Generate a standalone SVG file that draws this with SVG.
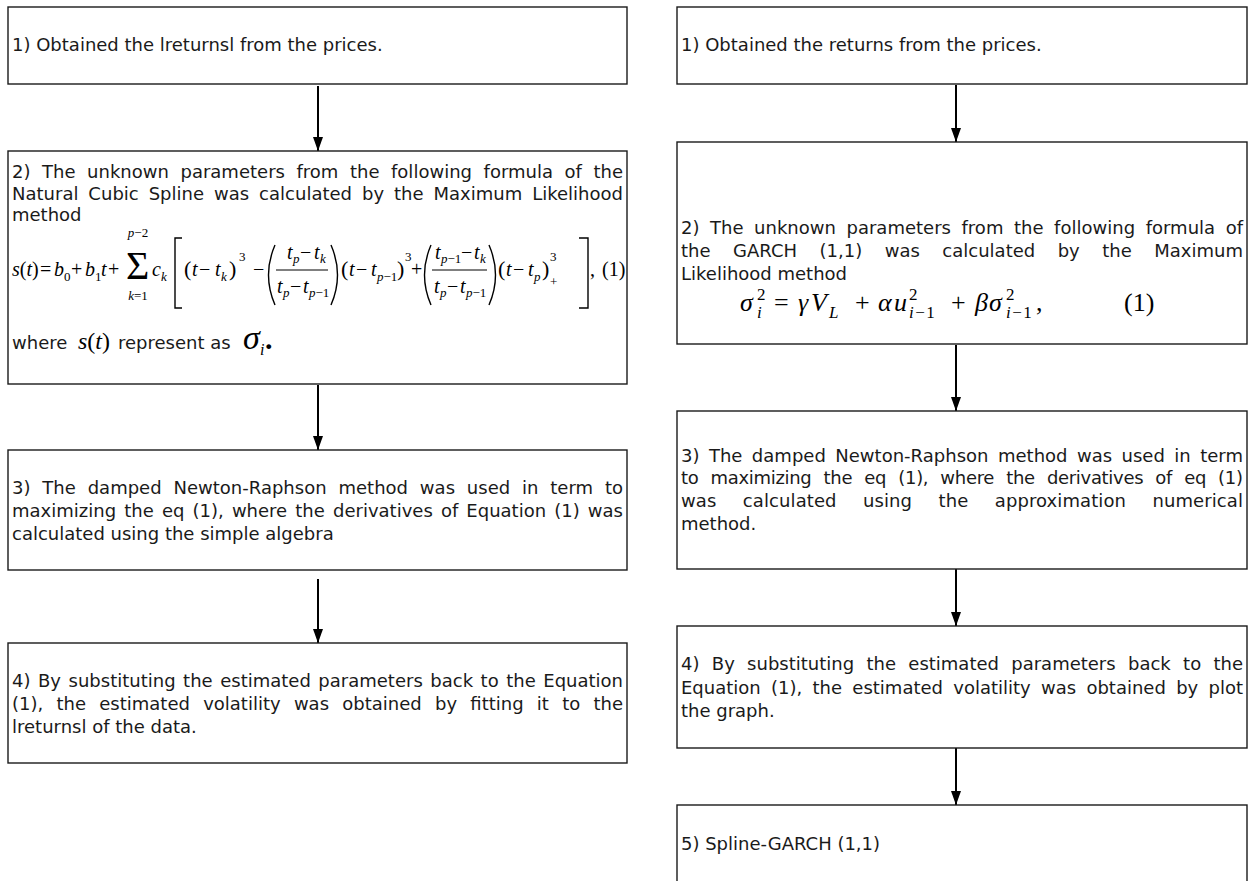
<svg xmlns="http://www.w3.org/2000/svg" width="1254" height="881" viewBox="0 0 1254 881">
<defs>
<style>
.box{fill:#fff;stroke:#1a1a1a;stroke-width:1.4}
.t{font-family:"DejaVu Sans","Liberation Sans",sans-serif;font-size:18px;fill:#1a1a1a}
.m{font-family:"Liberation Serif","Times New Roman",serif;font-size:20px;fill:#000}
.s{font-size:13px}
.i{font-style:italic}
.r{font-family:"Liberation Serif","Times New Roman",serif;font-size:26px;fill:#000}
.rs{font-size:17px}
.br{fill:none;stroke:#000;stroke-width:1.4}
.fb{stroke:#000;stroke-width:1}
.conn line{stroke:#000;stroke-width:2}
</style>
<marker id="ah" markerUnits="userSpaceOnUse" markerWidth="14" markerHeight="10" refX="14" refY="5" orient="auto" viewBox="0 0 14 10">
<path d="M0,0 L14,5 L0,10 z" fill="#000"/>
</marker>
</defs>
<rect width="1254" height="881" fill="#fff"/>

<g id="connectors" class="conn">
<line x1="318" y1="86" x2="318" y2="151" marker-end="url(#ah)"/>
<line x1="318" y1="385" x2="318" y2="450" marker-end="url(#ah)"/>
<line x1="318" y1="579" x2="318" y2="643" marker-end="url(#ah)"/>
<line x1="956" y1="85" x2="956" y2="142" marker-end="url(#ah)"/>
<line x1="956" y1="345" x2="956" y2="411" marker-end="url(#ah)"/>
<line x1="956" y1="569" x2="956" y2="626" marker-end="url(#ah)"/>
<line x1="956" y1="748" x2="956" y2="805" marker-end="url(#ah)"/>
</g>

<g id="L1">
<rect class="box" x="8" y="7" width="619" height="77"/>
<text class="t" x="12" y="51">1) Obtained the lreturnsl from the prices.</text>
</g>

<g id="L2">
<rect class="box" x="8" y="151" width="619" height="233"/>
<text class="t" x="12" y="178" word-spacing="5.8" textLength="611" lengthAdjust="spacing">2) The unknown parameters from the following formula of the</text>
<text class="t" x="12" y="200" word-spacing="4.2" textLength="611" lengthAdjust="spacing">Natural Cubic Spline was calculated by the Maximum Likelihood</text>
<text class="t" x="12" y="221">method</text>
<g id="formula-spline">
<text class="m" y="276"><tspan x="12" class="i">s</tspan><tspan>(</tspan><tspan class="i">t</tspan><tspan>)</tspan><tspan x="40">=</tspan><tspan x="54" class="i">b</tspan><tspan x="64" y="281" class="s">0</tspan><tspan x="71" y="276">+</tspan><tspan x="85" class="i">b</tspan><tspan x="95" y="281" class="s">1</tspan><tspan x="101" y="276" class="i">t</tspan><tspan x="108">+</tspan></text>
<text class="m" x="126" y="279" style="font-size:40px">Σ</text>
<text class="m s" x="138" y="237" text-anchor="middle"><tspan class="i">p</tspan>−2</text>
<text class="m s" x="138" y="300" text-anchor="middle"><tspan class="i">k</tspan>=1</text>
<text class="m" y="276"><tspan x="152" class="i">c</tspan><tspan x="161" y="281" class="s i">k</tspan></text>
<path class="br" d="M182,238 H175 V308 H182"/>
<text class="m" y="276"><tspan x="184" style="font-size:22px">(</tspan><tspan x="192" class="i">t</tspan><tspan x="199">−</tspan><tspan x="215" class="i">t</tspan><tspan x="221" y="281" class="s i">k</tspan><tspan x="229" y="276" style="font-size:22px">)</tspan><tspan x="239" y="261" class="s">3</tspan><tspan x="253" y="276">−</tspan></text>
<path class="br" d="M275,245 Q262,275 275,305"/>
<text class="m" y="259"><tspan x="287" class="i">t</tspan><tspan x="293" y="263" class="s i">p</tspan><tspan x="300" y="259">−</tspan><tspan x="314" class="i">t</tspan><tspan x="320" y="263" class="s i">k</tspan></text>
<line class="fb" x1="276" y1="270" x2="328" y2="270"/>
<text class="m" y="293"><tspan x="277" class="i">t</tspan><tspan x="283" y="297" class="s i">p</tspan><tspan x="290" y="293">−</tspan><tspan x="303" class="i">t</tspan><tspan x="309" y="297" class="s"><tspan class="i">p</tspan>−1</tspan></text>
<path class="br" d="M331,245 Q344,275 331,305"/>
<text class="m" y="276"><tspan x="341" style="font-size:22px">(</tspan><tspan x="349" class="i">t</tspan><tspan x="356">−</tspan><tspan x="371" class="i">t</tspan><tspan x="377" y="281" class="s"><tspan class="i">p</tspan>−1</tspan><tspan x="397" y="276" style="font-size:22px">)</tspan><tspan x="405" y="261" class="s">3</tspan><tspan x="411" y="276">+</tspan></text>
<path class="br" d="M431,245 Q418,275 431,305"/>
<text class="m" y="259"><tspan x="435" class="i">t</tspan><tspan x="441" y="263" class="s"><tspan class="i">p</tspan>−1</tspan><tspan x="461" y="259">−</tspan><tspan x="474" class="i">t</tspan><tspan x="480" y="263" class="s i">k</tspan></text>
<line class="fb" x1="432" y1="270" x2="487" y2="270"/>
<text class="m" y="293"><tspan x="434" class="i">t</tspan><tspan x="440" y="297" class="s i">p</tspan><tspan x="447" y="293">−</tspan><tspan x="460" class="i">t</tspan><tspan x="466" y="297" class="s"><tspan class="i">p</tspan>−1</tspan></text>
<path class="br" d="M489,245 Q502,275 489,305"/>
<text class="m" y="276"><tspan x="498" style="font-size:22px">(</tspan><tspan x="506" class="i">t</tspan><tspan x="513">−</tspan><tspan x="528" class="i">t</tspan><tspan x="534" y="281" class="s i">p</tspan><tspan x="542" y="276" style="font-size:22px">)</tspan><tspan x="550" y="261" class="s">3</tspan><tspan x="550" y="286" class="s">+</tspan></text>
<path class="br" d="M579,238 H588 V308 H579"/>
<text class="m" y="276"><tspan x="590">,</tspan><tspan x="602">(1)</tspan></text>
</g>
<text class="t" x="12" y="349">where</text>
<text class="m i" x="78" y="349" style="font-size:24px">s<tspan style="font-style:normal">(</tspan>t<tspan style="font-style:normal">)</tspan></text>
<text class="t" x="118" y="349">represent as</text>
<text class="m i" x="243" y="349" style="font-size:34px">σ</text>
<text class="m i" x="260" y="355" style="font-size:16px">i</text>
<text class="m" x="265" y="349" style="font-size:30px;font-weight:bold">.</text>
</g>

<g id="L3">
<rect class="box" x="8" y="450" width="619" height="120"/>
<text class="t" x="12" y="494" word-spacing="6.1" textLength="611" lengthAdjust="spacing">3) The damped Newton-Raphson method was used in term to</text>
<text class="t" x="12" y="517" word-spacing="2.4" textLength="611" lengthAdjust="spacing">maximizing the eq (1), where the derivatives of Equation (1) was</text>
<text class="t" x="12" y="540">calculated using the simple algebra</text>
</g>

<g id="L4">
<rect class="box" x="8" y="643" width="619" height="120"/>
<text class="t" x="12" y="687" word-spacing="1.8" textLength="611" lengthAdjust="spacing">4) By substituting the estimated parameters back to the Equation</text>
<text class="t" x="12" y="710" word-spacing="7.5" textLength="611" lengthAdjust="spacing">(1), the estimated volatility was obtained by fitting it to the</text>
<text class="t" x="12" y="733">lreturnsl of the data.</text>
</g>

<g id="R1">
<rect class="box" x="677" y="7" width="570" height="77"/>
<text class="t" x="681" y="51">1) Obtained the returns from the prices.</text>
</g>

<g id="R2">
<rect class="box" x="677" y="142" width="570" height="202"/>
<text class="t" x="681" y="234" word-spacing="4.8" textLength="562" lengthAdjust="spacing">2) The unknown parameters from the following formula of</text>
<text class="t" x="681" y="257" word-spacing="16.7" textLength="562" lengthAdjust="spacing">the GARCH (1,1) was calculated by the Maximum</text>
<text class="t" x="681" y="280">Likelihood method</text>
<g id="formula-garch">
<text class="r" y="311"><tspan x="740" class="i">σ</tspan><tspan x="757" y="300" class="rs">2</tspan><tspan x="757" y="318" class="rs i">i</tspan><tspan x="774" y="311">=</tspan><tspan x="798" class="i">γ</tspan><tspan x="811" class="i">V</tspan><tspan x="829" y="318" class="rs i">L</tspan><tspan x="855" y="311">+</tspan><tspan x="878" class="i">α</tspan><tspan x="894" class="i">u</tspan><tspan x="909" y="300" class="rs">2</tspan><tspan x="909" y="318" class="rs" letter-spacing="1.5"><tspan class="i">i</tspan>−1</tspan><tspan x="951" y="311">+</tspan><tspan x="975" class="i">β</tspan><tspan x="989" class="i">σ</tspan><tspan x="1006" y="300" class="rs">2</tspan><tspan x="1006" y="318" class="rs" letter-spacing="1.5"><tspan class="i">i</tspan>−1</tspan><tspan x="1036" y="311">,</tspan><tspan x="1124">(1)</tspan></text>
</g>
</g>

<g id="R3">
<rect class="box" x="677" y="411" width="570" height="158"/>
<text class="t" x="681" y="462" word-spacing="3.7" textLength="562" lengthAdjust="spacing">3) The damped Newton-Raphson method was used in term</text>
<text class="t" x="681" y="484" word-spacing="6.7" textLength="562" lengthAdjust="spacing">to maximizing the eq (1), where the derivatives of eq (1)</text>
<text class="t" x="681" y="507" word-spacing="20.6" textLength="562" lengthAdjust="spacing">was calculated using the approximation numerical</text>
<text class="t" x="681" y="530">method.</text>
</g>

<g id="R4">
<rect class="box" x="677" y="626" width="570" height="122"/>
<text class="t" x="681" y="670" word-spacing="6.6" textLength="562" lengthAdjust="spacing">4) By substituting the estimated parameters back to the</text>
<text class="t" x="681" y="694" word-spacing="4.55" textLength="562" lengthAdjust="spacing">Equation (1), the estimated volatility was obtained by plot</text>
<text class="t" x="681" y="717">the graph.</text>
</g>

<g id="R5">
<rect class="box" x="677" y="805" width="570" height="90"/>
<text class="t" x="681" y="850">5) Spline-GARCH (1,1)</text>
</g>
</svg>
